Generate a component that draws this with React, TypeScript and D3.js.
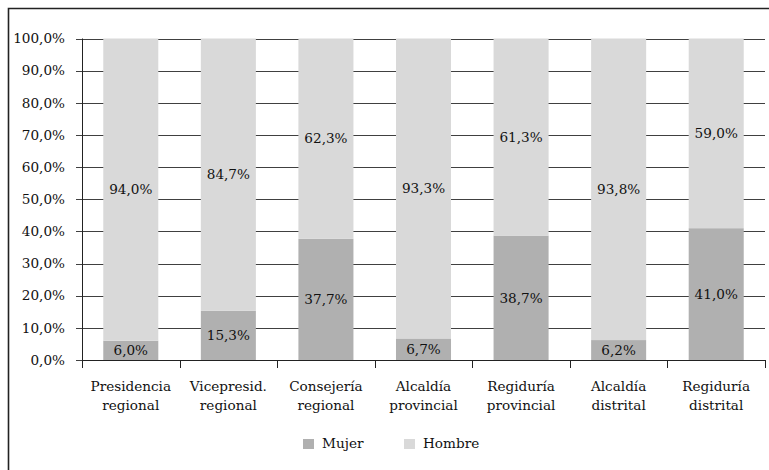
import React from "react";
import * as d3 from "d3";

const categories = [
  "Presidencia regional",
  "Vicepresid. regional",
  "Consejería regional",
  "Alcaldía provincial",
  "Regiduría provincial",
  "Alcaldía distrital",
  "Regiduría distrital",
];
const mujer = [6.0, 15.3, 37.7, 6.7, 38.7, 6.2, 41.0];
const hombre = [94.0, 84.7, 62.3, 93.3, 61.3, 93.8, 59.0];
const yTicks = [0, 10, 20, 30, 40, 50, 60, 70, 80, 90, 100];
const seriesNames = ["Mujer", "Hombre"];
const seriesColors = ["#b0b0b0", "#d9d9d9"];

const W = 769;
const H = 470;
const FONT = "DejaVu Serif, serif";
const FS = 13.6;

const fmt = (v: number) => v.toFixed(1).replace(".", ",") + "%";

export default function App() {
  const left = 82;
  const right = 765;
  const top = 38.5;
  const bottom = 360;

  const x = d3
    .scaleBand<string>()
    .domain(categories)
    .range([left, right])
    .paddingInner(0.436)
    .paddingOuter(0.218);
  const y = d3.scaleLinear().domain([0, 100]).range([bottom, top]);
  const step = x.step();

  const rows = categories.map((c, i) => ({ c, m: mujer[i], h: hombre[i] }));

  return (
    <svg
      width={W}
      height={H}
      style={{ position: "absolute", left: 0, top: 0, background: "#fff", fontFamily: FONT, fontSize: FS }}
    >
      <rect x={0} y={0} width={W} height={H} fill="#fff" />
      {/* outer frame */}
      <path d={`M8.5,${H} V8.5 H${W}`} fill="none" stroke="#222" strokeWidth={1.6} />

      {/* gridlines */}
      {yTicks.map((t) => (
        <line
          key={"g" + t}
          x1={left - 6}
          x2={right}
          y1={Math.round(y(t)) + 0.5}
          y2={Math.round(y(t)) + 0.5}
          stroke="#404040"
          strokeWidth={1}
        />
      ))}

      {/* bars */}
      {rows.map((r) => {
        const bx = x(r.c)!;
        const bw = x.bandwidth();
        return (
          <g key={r.c}>
            <rect x={bx} y={y(r.m)} width={bw} height={y(0) - y(r.m)} fill={seriesColors[0]} />
            <rect x={bx} y={y(r.m + r.h)} width={bw} height={y(r.m) - y(r.m + r.h)} fill={seriesColors[1]} />
          </g>
        );
      })}

      {/* y axis */}
      <line x1={left + 0.5} x2={left + 0.5} y1={top} y2={bottom + 8} stroke="#222" strokeWidth={1} />
      {yTicks.map((t) => (
        <text key={"t" + t} x={65} y={y(t)} dy="0.35em" textAnchor="end" fill="#111">
          {fmt(t)}
        </text>
      ))}

      {/* x axis */}
      <line x1={left} x2={right + 0.5} y1={bottom + 0.5} y2={bottom + 0.5} stroke="#222" strokeWidth={1} />
      {d3.range(categories.length + 1).map((i) => (
        <line
          key={"xt" + i}
          x1={Math.round(left + i * step) + 0.5}
          x2={Math.round(left + i * step) + 0.5}
          y1={bottom}
          y2={bottom + 8}
          stroke="#222"
          strokeWidth={1}
        />
      ))}
      {categories.map((c) => {
        const cx = x(c)! + x.bandwidth() / 2;
        const parts = c.split(" ");
        return (
          <text key={"cl" + c} x={cx} textAnchor="middle" fill="#111">
            {parts.map((p, j) => (
              <tspan key={j} x={cx} y={391 + j * 19}>
                {p}
              </tspan>
            ))}
          </text>
        );
      })}

      {/* value labels */}
      {rows.map((r) => {
        const cx = x(r.c)! + x.bandwidth() / 2;
        return (
          <g key={"vl" + r.c}>
            <text x={cx} y={y(r.m / 2)} dy="0.35em" textAnchor="middle" fill="#111">
              {fmt(r.m)}
            </text>
            <text x={cx} y={y(r.m + r.h / 2)} dy="0.35em" textAnchor="middle" fill="#111">
              {fmt(r.h)}
            </text>
          </g>
        );
      })}

      {/* legend */}
      {seriesNames.map((s, i) => {
        const lx = 303 + i * 101;
        return (
          <g key={"lg" + s}>
            <rect x={lx} y={439} width={11} height={10} fill={seriesColors[i]} />
            <text x={lx + 19} y={448} fill="#111">
              {s}
            </text>
          </g>
        );
      })}
    </svg>
  );
}
